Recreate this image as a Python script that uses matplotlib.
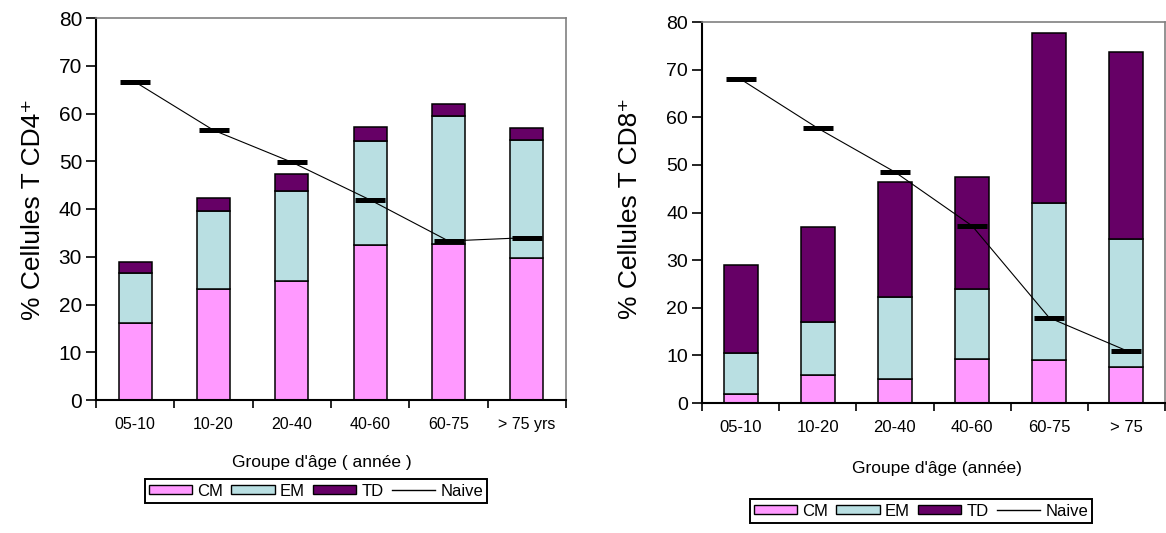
import matplotlib
matplotlib.use("Agg")
import matplotlib.pyplot as plt
from matplotlib.patches import Patch
from matplotlib.lines import Line2D
import numpy as np

plt.rcParams['font.family'] = ['Liberation Sans', 'DejaVu Sans']

# ---- data ----
cats_cd4 = ["05-10", "10-20", "20-40", "40-60", "60-75", "> 75 yrs"]
cm_cd4 = [16.2, 23.3, 25.0, 32.5, 32.7, 29.7]
em_cd4 = [26.6, 39.6, 43.8, 54.2, 59.4, 54.4]      # cumulative top of EM
td_cd4 = [28.9, 42.2, 47.3, 57.2, 61.9, 56.9]      # cumulative top of TD
naive_cd4 = [66.6, 56.5, 49.8, 41.9, 33.3, 34.0]

cats_cd8 = ["05-10", "10-20", "20-40", "40-60", "60-75", "> 75"]
cm_cd8 = [1.9, 5.8, 5.1, 9.3, 9.0, 7.6]
em_cd8 = [10.6, 17.1, 22.2, 23.9, 41.9, 34.4]
td_cd8 = [29.0, 37.0, 46.3, 47.5, 77.6, 73.8]
naive_cd8 = [68.0, 57.7, 48.5, 37.2, 17.9, 11.0]

labels = ["CM", "EM", "TD", "Naive"]
C_CM = "#FF99FF"
C_EM = "#B9DFE2"
C_TD = "#660066"

W, H = 1166, 533
fig = plt.figure(figsize=(W / 100, H / 100), dpi=100)


def make_axes(rect, cats, cm, em, td, naive, bw, ytick_fs, xtick_fs):
    ax = fig.add_axes(rect)
    x = np.arange(len(cats))
    cm = np.array(cm); em = np.array(em); td = np.array(td)
    ax.bar(x, cm, bw, color=C_CM, edgecolor="black", linewidth=1.1, zorder=2)
    ax.bar(x, em - cm, bw, bottom=cm, color=C_EM, edgecolor="black", linewidth=1.1, zorder=2)
    ax.bar(x, td - em, bw, bottom=em, color=C_TD, edgecolor="black", linewidth=1.1, zorder=2)
    ax.plot(x, naive, color="black", lw=0.8, zorder=3)
    ax.plot(x, naive, ls="none", marker="_", ms=22, mew=3.6, color="black", zorder=4)
    ax.set_xlim(-0.5, len(cats) - 0.5)
    ax.set_ylim(0, 80)
    ax.set_yticks(range(0, 81, 10))
    ax.tick_params(axis="y", direction="out", length=7, width=1.2, labelsize=ytick_fs, pad=3)
    ax.set_xticks(x)
    ax.set_xticklabels(cats, fontsize=xtick_fs)
    ax.tick_params(axis="x", which="major", length=0, pad=12)
    ax.set_xticks(np.arange(-0.5, len(cats), 1.0), minor=True)
    ax.tick_params(axis="x", which="minor", direction="out", length=6, width=1.2)
    for s in ("left", "bottom"):
        ax.spines[s].set_color("black")
        ax.spines[s].set_linewidth(1.5)
    for s in ("top", "right"):
        ax.spines[s].set_color("#808080")
        ax.spines[s].set_linewidth(1.2)
    return ax


axL = make_axes([96 / W, 1 - 400 / H, 470 / W, 382 / H], cats_cd4, cm_cd4, em_cd4,
                td_cd4, naive_cd4, 0.42, 15, 11.5)
axR = make_axes([702 / W, 1 - 403 / H, 463 / W, 381 / H], cats_cd8, cm_cd8, em_cd8,
                td_cd8, naive_cd8, 0.44, 14, 12)

fig.text(33 / W, 1 - 209 / H, "% Cellules T CD4\u207a", rotation=90, ha="center",
         va="center", fontsize=19)
fig.text(630 / W, 1 - 208 / H, "% Cellules T CD8\u207a", rotation=90, ha="center",
         va="center", fontsize=19)
fig.text(322 / W, 1 - 463 / H, "Groupe d'âge ( année )", ha="center", va="center",
         fontsize=12.5)
fig.text(937 / W, 1 - 469 / H, "Groupe d'âge (année)", ha="center", va="center",
         fontsize=12.5)

handles = [Patch(facecolor=C_CM, edgecolor="black", linewidth=1),
           Patch(facecolor=C_EM, edgecolor="black", linewidth=1),
           Patch(facecolor=C_TD, edgecolor="black", linewidth=1),
           Line2D([0], [0], color="black", lw=1)]

for (cx, cy) in [(316, 491), (921, 511)]:
    leg = fig.legend(handles, labels, ncol=4, loc="center",
                     bbox_to_anchor=(cx / W, 1 - cy / H), frameon=True, fancybox=False,
                     edgecolor="black", framealpha=1, fontsize=12, borderpad=0.25,
                     handlelength=2.6, handleheight=0.4, handletextpad=0.3,
                     columnspacing=0.5, borderaxespad=0)
    leg.get_frame().set_linewidth(1.4)

fig.savefig("out.png", dpi=100)
